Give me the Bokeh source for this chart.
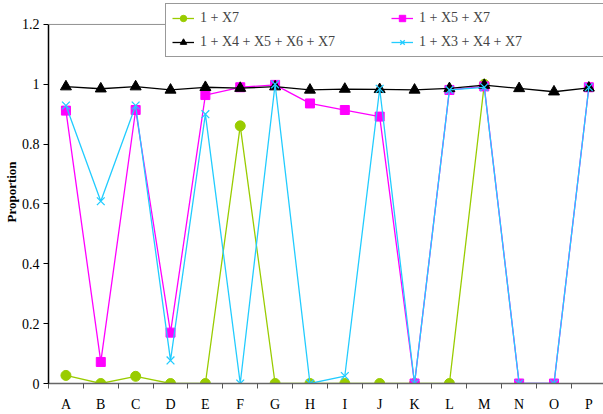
import numpy as np
from bokeh.plotting import figure
from bokeh.models import (Range1d, FixedTicker, Legend, LegendItem, ColumnDataSource, Span)
from bokeh.embed import file_html
from bokeh.resources import INLINE

nan = float("nan")

categories = list("ABCDEFGHIJKLMNOP")
series_labels = ["1 + X7", "1 + X5 + X7", "1 + X4 + X5 + X6 + X7", "1 + X3 + X4 + X7"]
s_x7 = [0.027, 0.0, 0.024, 0.0, 0.0, 0.861, 0.0, 0.0, 0.0, 0.0, 0.0, 0.0, 1.0, nan, nan, nan]
s_x5x7 = [0.912, 0.072, 0.914, 0.170, 0.964, 0.990, 0.998, 0.936, 0.914, 0.892, 0.0, 0.981, 0.993, 0.0, 0.0, 0.990]
s_x4x5x6x7 = [0.992, 0.985, 0.992, 0.981, 0.990, 0.987, 0.992, 0.981, 0.984, 0.983, 0.981, 0.986, 0.997, 0.986, 0.975, 0.988]
s_x3x4x7 = [0.929, 0.609, 0.929, 0.077, 0.900, 0.0, 1.0, 0.0, 0.025, 0.985, 0.0, 0.981, 0.990, 0.0, 0.0, 0.990]

y_ticks = [0, 0.2, 0.4, 0.6, 0.8, 1, 1.2]
y_tick_labels = ["0", "0.2", "0.4", "0.6", "0.8", "1", "1.2"]
y_max = 1.2

FONT = "Liberation Serif"

xs = [i + 0.5 for i in range(len(categories))]

p = figure(width=603, height=414, output_backend="svg", toolbar_location=None,
           x_range=Range1d(0, 15.92), y_range=Range1d(0, 1.28),
           min_border_left=46, min_border_top=0, min_border_bottom=31, min_border_right=0)
p.title.visible = False
p.xgrid.visible = False
p.ygrid.visible = False
p.outline_line_color = None
p.background_fill_color = "white"
p.border_fill_color = "white"

# top plot-area border at the axis maximum
p.add_layout(Span(location=y_max, dimension="width", line_color="#909090", line_width=1))

# x axis
xa = p.xaxis[0]
xa.ticker = FixedTicker(ticks=xs, minor_ticks=list(range(len(categories) + 1)))
xa.major_label_overrides = {x: c for x, c in zip(xs, categories)}
xa.major_tick_out = 0
xa.major_tick_in = 0
xa.minor_tick_out = 5
xa.minor_tick_in = 0
xa.minor_tick_line_color = "#555555"
xa.axis_line_color = "#666666"
xa.axis_line_width = 1.5
xa.major_label_standoff = 8
xa.major_label_text_font = FONT
xa.major_label_text_font_size = "14px"
xa.major_label_text_color = "black"

# y axis
ya = p.yaxis[0]
ya.bounds = (0, y_max)
ya.ticker = FixedTicker(ticks=y_ticks, minor_ticks=[])
ya.major_label_overrides = dict(zip(y_ticks, y_tick_labels))
ya.major_tick_out = 5
ya.major_tick_in = 0
ya.major_tick_line_color = "black"
ya.axis_line_color = "black"
ya.axis_line_width = 1.5
ya.major_label_standoff = 4
ya.major_label_text_font = FONT
ya.major_label_text_font_size = "14px"
ya.major_label_text_color = "black"
ya.axis_label = "Proportion"
ya.axis_label_text_font = FONT
ya.axis_label_text_font_size = "13px"
ya.axis_label_text_font_style = "bold"
ya.axis_label_text_color = "black"
ya.axis_label_standoff = 0

styles = [
    dict(color="#99CC00", marker="circle", size=10),
    dict(color="#FF00FF", marker="square", size=9),
    dict(color="#000000", marker="triangle", size=11),
    dict(color="#22CCFF", marker="x", size=11),
]
all_series = [s_x7, s_x5x7, s_x4x5x6x7, s_x3x4x7]

items = []
for lab, vals, st in zip(series_labels, all_series, styles):
    src = ColumnDataSource(dict(x=xs, y=vals))
    lr = p.line("x", "y", source=src, line_color=st["color"], line_width=1.3)
    if st["marker"] == "x":
        sr = p.scatter("x", "y", source=src, marker="x", size=st["size"],
                       line_color=st["color"], line_width=1.3)
    else:
        sr = p.scatter("x", "y", source=src, marker=st["marker"], size=st["size"],
                       fill_color=st["color"], line_color=st["color"])
    items.append(LegendItem(label=lab, renderers=[lr, sr]))

legend = Legend(items=items, location=(117, 326), orientation="horizontal", nrows=2,
                label_text_font=FONT, label_text_font_size="14px",
                label_width=183, label_height=16, glyph_height=16, glyph_width=22,
                label_standoff=6, spacing=8, padding=6, margin=0,
                border_line_color="#333333", border_line_width=1,
                background_fill_color="white", background_fill_alpha=1.0)
p.add_layout(legend)

open("out.html", "w").write(file_html(p, INLINE))
